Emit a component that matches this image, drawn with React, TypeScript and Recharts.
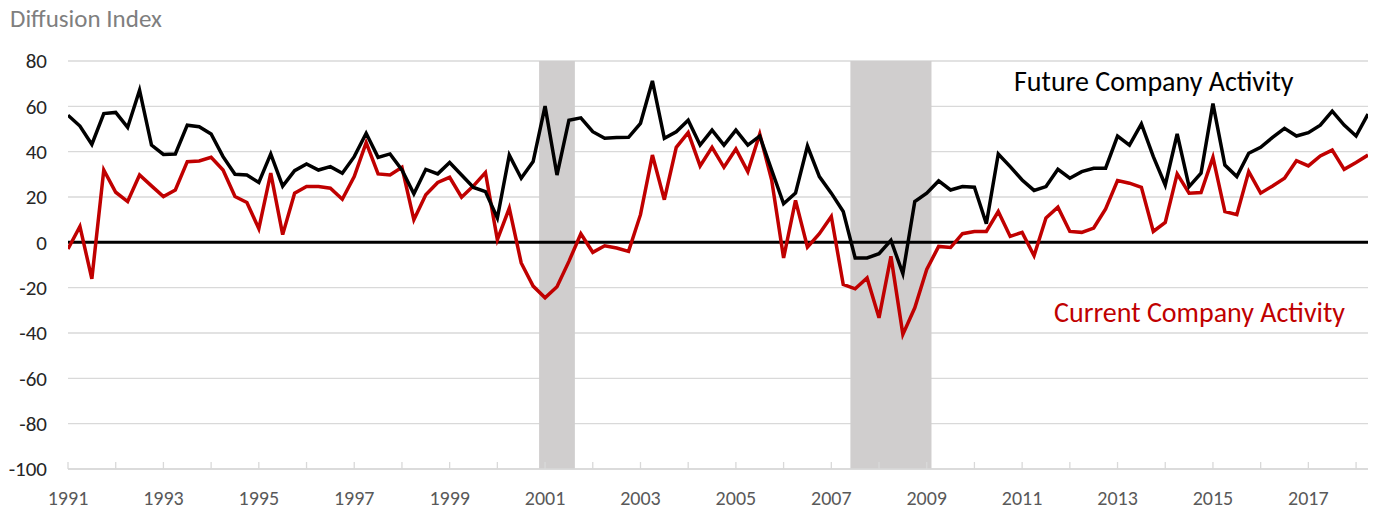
import React from 'react';
import { LineChart, Line, XAxis, YAxis, CartesianGrid, ReferenceArea, ReferenceLine } from 'recharts';

// Quarterly observations, 1991Q1 .. 2018Q2
const startYear = 1991;
const futureActivity = [
  56.1, 51.3, 43.2, 56.8, 57.3, 50.7, 67.1, 42.9, 38.8, 39.0,
  51.7, 51.0, 47.8, 37.8, 30.0, 29.7, 26.4, 39.0, 24.8, 31.6,
  34.6, 31.9, 33.4, 30.5, 37.8, 48.1, 37.5, 39.0, 31.9, 21.4,
  32.2, 30.2, 35.2, 29.7, 24.2, 22.4, 10.7, 38.5, 28.3, 35.6,
  60.1, 29.7, 53.9, 54.9, 48.8, 45.9, 46.2, 46.3, 52.5, 71.2,
  45.9, 48.8, 53.9, 42.9, 49.5, 42.9, 49.5, 42.9, 46.9, 31.9,
  17.0, 21.7, 42.5, 29.0, 21.7, 13.6, -6.9, -6.9, -5.0, 0.9,
  -13.8, 18.0, 21.7, 27.1, 23.1, 24.6, 24.3, 8.2, 39.0, 33.4,
  27.5, 22.9, 24.6, 32.2, 28.3, 31.2, 32.7, 32.7, 46.9, 42.9,
  52.2, 37.8, 25.3, 47.8, 24.6, 30.5, 61.2, 34.1, 29.0, 39.3,
  41.9, 46.3, 50.3, 46.9, 48.4, 51.7, 57.9, 51.7, 46.9, 56.6,
];
const currentActivity = [
  -2.9, 7.0, -16.1, 31.9, 22.1, 18.0, 29.7, 24.9, 20.2, 23.1,
  35.6, 35.9, 37.5, 31.9, 20.2, 17.6, 6.0, 30.5, 3.4, 21.7,
  24.6, 24.6, 23.9, 19.0, 29.0, 44.0, 30.2, 29.7, 33.1, 10.0,
  21.0, 26.4, 28.7, 19.9, 24.9, 30.8, 1.2, 15.1, -9.1, -19.3,
  -24.5, -19.6, -8.4, 3.8, -4.4, -1.5, -2.5, -4.0, 12.2, 38.5,
  18.8, 41.9, 48.4, 33.7, 41.9, 33.1, 41.2, 31.2, 47.8, 27.5,
  -6.9, 18.5, -2.1, 3.8, 11.4, -18.6, -20.5, -15.7, -33.3, -6.2,
  -40.6, -28.9, -12.0, -1.8, -2.3, 3.8, 4.8, 4.8, 13.6, 2.6,
  4.4, -5.9, 10.7, 15.5, 4.8, 4.4, 6.3, 14.7, 27.3, 26.1,
  24.3, 4.8, 8.8, 30.2, 21.7, 22.0, 37.5, 13.6, 12.2, 31.2,
  21.7, 24.9, 28.3, 36.0, 33.7, 38.1, 40.7, 32.2, 35.2, 38.5,
];
const yTicks = [-100, -80, -60, -40, -20, 0, 20, 40, 60, 80];
const xTicks = Array.from({ length: 28 }, (_, k) => k * 4); // one tick per year
const recessions = [
  { from: 39.5, to: 42.5 },
  { from: 65.6, to: 72.4 },
];

const data = futureActivity.map((f, i) => ({ q: i, future: f, current: currentActivity[i] }));

const FONT = 'Carlito, Lato, "Liberation Sans", sans-serif';

const XTick = (props: any) => {
  const { x, y, payload } = props;
  const idx = payload.value as number;
  const showLabel = idx % 8 === 0;
  return (
    <g>
      <line x1={x} x2={x} y1={y - 7} y2={y} stroke="#d9d9d9" strokeWidth={1.3} />
      {showLabel && (
        <text x={x} y={y + 36} textAnchor="middle" fill="#595959" fontSize={20} fontFamily={FONT}>
          {startYear + idx / 4}
        </text>
      )}
    </g>
  );
};

export default function App() {
  return (
    <div style={{ position: 'absolute', left: 0, top: 0, width: 1378, height: 510, background: '#fff' }}>
      <LineChart
        width={1378}
        height={510}
        data={data}
        margin={{ top: 61, right: 10, bottom: 0, left: 0 }}
      >
        <CartesianGrid vertical={false} stroke="#d9d9d9" strokeWidth={1.3} />
        <XAxis
          dataKey="q"
          type="number"
          domain={[0, 109]}
          ticks={xTicks}
          interval={0}
          height={41}
          tickSize={0}
          tickMargin={0}
          tickLine={false}
          axisLine={{ stroke: '#d9d9d9', strokeWidth: 1.3 }}
          tick={<XTick />}
          allowDataOverflow
        />
        <YAxis
          domain={[-100, 80]}
          ticks={yTicks}
          interval={0}
          width={68}
          tickSize={0}
          tickMargin={21}
          axisLine={false}
          tickLine={false}
          tick={{ fill: '#262626', fontSize: 21, fontFamily: FONT }}
          allowDataOverflow
        />
        {recessions.map((r, k) => (
          <ReferenceArea key={k} x1={r.from} x2={r.to} y1={-100} y2={80} fill="#d0cece" fillOpacity={1} stroke="none" />
        ))}
        <ReferenceLine y={0} stroke="#000" strokeWidth={3} />
        <Line type="linear" dataKey="current" stroke="#c00000" strokeWidth={3.5} dot={false} isAnimationActive={false} />
        <Line type="linear" dataKey="future" stroke="#000000" strokeWidth={3.5} dot={false} isAnimationActive={false} />
      </LineChart>
      <svg width={1378} height={510} style={{ position: 'absolute', left: 0, top: 0, pointerEvents: 'none' }}>
        <text x={10} y={27} fill="#7f7f7f" fontSize={25} fontFamily={FONT}>Diffusion Index</text>
        <text x={1014} y={91} fill="#000" fontSize={28} fontFamily={FONT}>Future Company Activity</text>
        <text x={1054} y={322} fill="#c00000" fontSize={28} fontFamily={FONT}>Current Company Activity</text>
      </svg>
    </div>
  );
}
